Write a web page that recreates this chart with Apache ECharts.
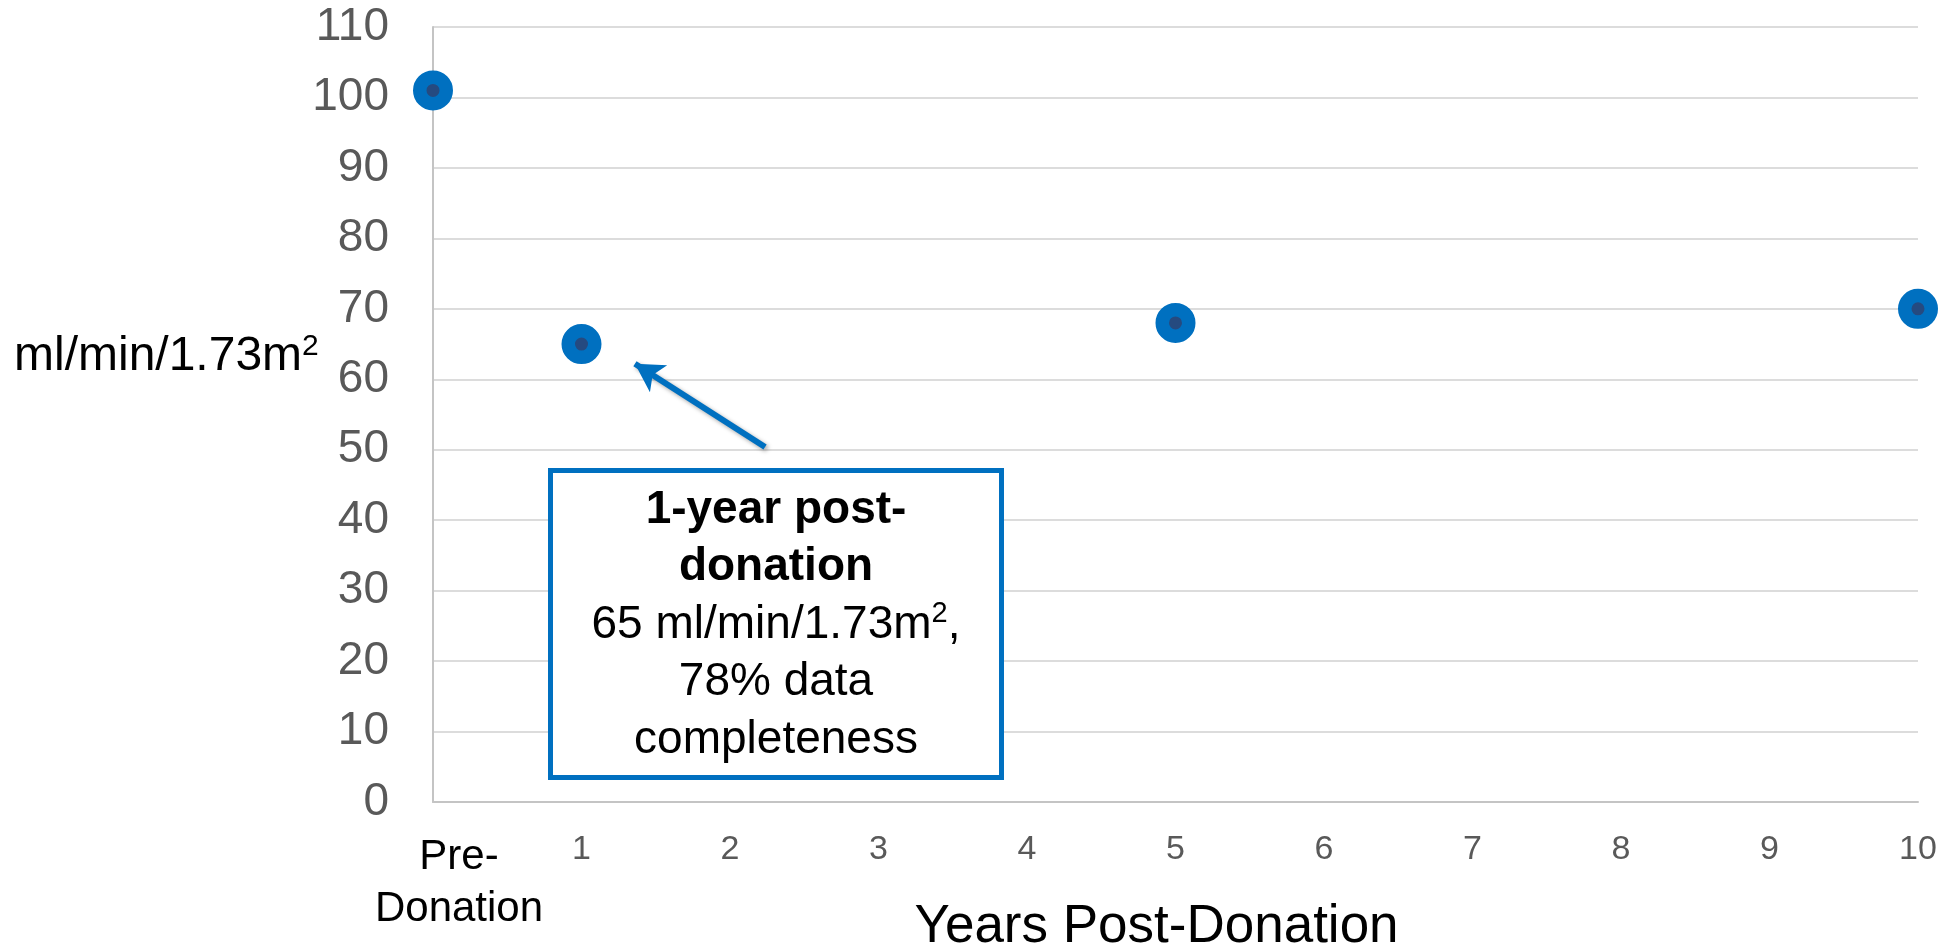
<!DOCTYPE html>
<html>
<head>
<meta charset="utf-8">
<script src="https://cdn.jsdelivr.net/npm/echarts@6/dist/echarts.min.js"></script>
<style>
html,body{margin:0;padding:0;background:#fff;}
#chart{width:1945px;height:950px;}
</style>
</head>
<body>
<div id="chart"></div>
<script>
// ---- data ----
var xValues = [0, 1, 5, 10];
var gfrValues = [101, 65, 68, 70];
var xTickLabels = ['Pre-\nDonation', '1', '2', '3', '4', '5', '6', '7', '8', '9', '10'];
var yAxisTitle = 'ml/min/1.73m';
var xAxisTitle = 'Years Post-Donation';
var arrowFrom = [2.236, 50.4];
var arrowTo = [1.36, 62.2];
var noteLines = ['1-year post-', 'donation', '65 ml/min/1.73m', '78% data', 'completeness'];

var FONT = "'Liberation Sans', Arial, sans-serif";
var points = xValues.map(function (x, i) { return [x, gfrValues[i]]; });

var chart = echarts.init(document.getElementById('chart'), null, {renderer: 'canvas'});
chart.setOption({
  backgroundColor: '#ffffff',
  animation: false,
  grid: {left: 433, right: 27, top: 27, bottom: 148, containLabel: false, outerBoundsMode: 'none'},
  xAxis: {
    type: 'value', min: 0, max: 10, interval: 1,
    axisLine: {show: true, lineStyle: {color: '#c4c4c4', width: 2}},
    axisTick: {show: false},
    splitLine: {show: false},
    axisLabel: {
      margin: 29,
      formatter: function (v) {
        var t = xTickLabels[Math.round(v)];
        return Math.round(v) === 0 ? '{pre|' + t + '}' : '{num|' + t + '}';
      },
      rich: {
        pre: {fontFamily: FONT, fontSize: 42, lineHeight: 52, color: '#000000', padding: [0, 0, 0, 52]},
        num: {fontFamily: FONT, fontSize: 34, lineHeight: 38, color: '#595959'}
      }
    },
    name: xAxisTitle,
    nameLocation: 'middle',
    nameGap: 99,
    nameMoveOverlap: false,
    nameTextStyle: {fontFamily: FONT, fontSize: 53, color: '#000000', padding: [0, 38, 0, 0]}
  },
  yAxis: {
    type: 'value', min: 0, max: 110, interval: 10,
    axisLine: {show: true, lineStyle: {color: '#c4c4c4', width: 2}},
    axisTick: {show: false},
    splitLine: {show: true, lineStyle: {color: '#dcdcdc', width: 2}},
    axisLabel: {margin: 44, fontFamily: FONT, fontSize: 46, color: '#595959'}
  },
  graphic: [
    {
      type: 'text', left: 14, top: 332,
      style: {
        text: '{m|' + yAxisTitle + '}{s|2}',
        rich: {
          m: {fontFamily: FONT, fontSize: 48, color: '#000', lineHeight: 52},
          s: {fontFamily: FONT, fontSize: 30, color: '#000', lineHeight: 52, padding: [0, 0, 20, 0]}
        }
      }
    },
    {
      type: 'rect', z: 10,
      shape: {x: 550.5, y: 470.5, width: 451, height: 307},
      style: {fill: '#ffffff', stroke: '#0070C0', lineWidth: 5}
    },
    {
      type: 'text', z: 11, x: 776, y: 625,
      style: {
        text: '{b|' + noteLines[0] + '}\n{b|' + noteLines[1] + '}\n{r|' + noteLines[2] + '}{s|2}{r|,}\n{r|' + noteLines[3] + '}\n{r|' + noteLines[4] + '}',
        align: 'center', verticalAlign: 'middle',
        rich: {
          b: {fontFamily: FONT, fontSize: 46, fontWeight: 'bold', color: '#000', lineHeight: 57.5},
          r: {fontFamily: FONT, fontSize: 46, color: '#000', lineHeight: 57.5},
          s: {fontFamily: FONT, fontSize: 29, color: '#000', lineHeight: 57.5, padding: [0, 0, 22, 0]}
        }
      }
    }
  ],
  series: [{
    type: 'scatter',
    data: points,
    symbol: 'circle',
    symbolSize: 26.5,
    itemStyle: {color: '#254a80', borderColor: '#0070C0', borderWidth: 13.5, opacity: 1},
    z: 5,
    markLine: {
      silent: true,
      symbol: ['none', 'arrow'],
      symbolSize: [24, 28],
      label: {show: false},
      lineStyle: {color: '#0070C0', width: 6, type: 'solid', opacity: 1,
        shadowBlur: 4, shadowColor: 'rgba(0,0,0,0.35)', shadowOffsetX: 2, shadowOffsetY: 2},
      data: [[{coord: arrowFrom}, {coord: arrowTo}]]
    }
  }]
});
</script>
</body>
</html>
